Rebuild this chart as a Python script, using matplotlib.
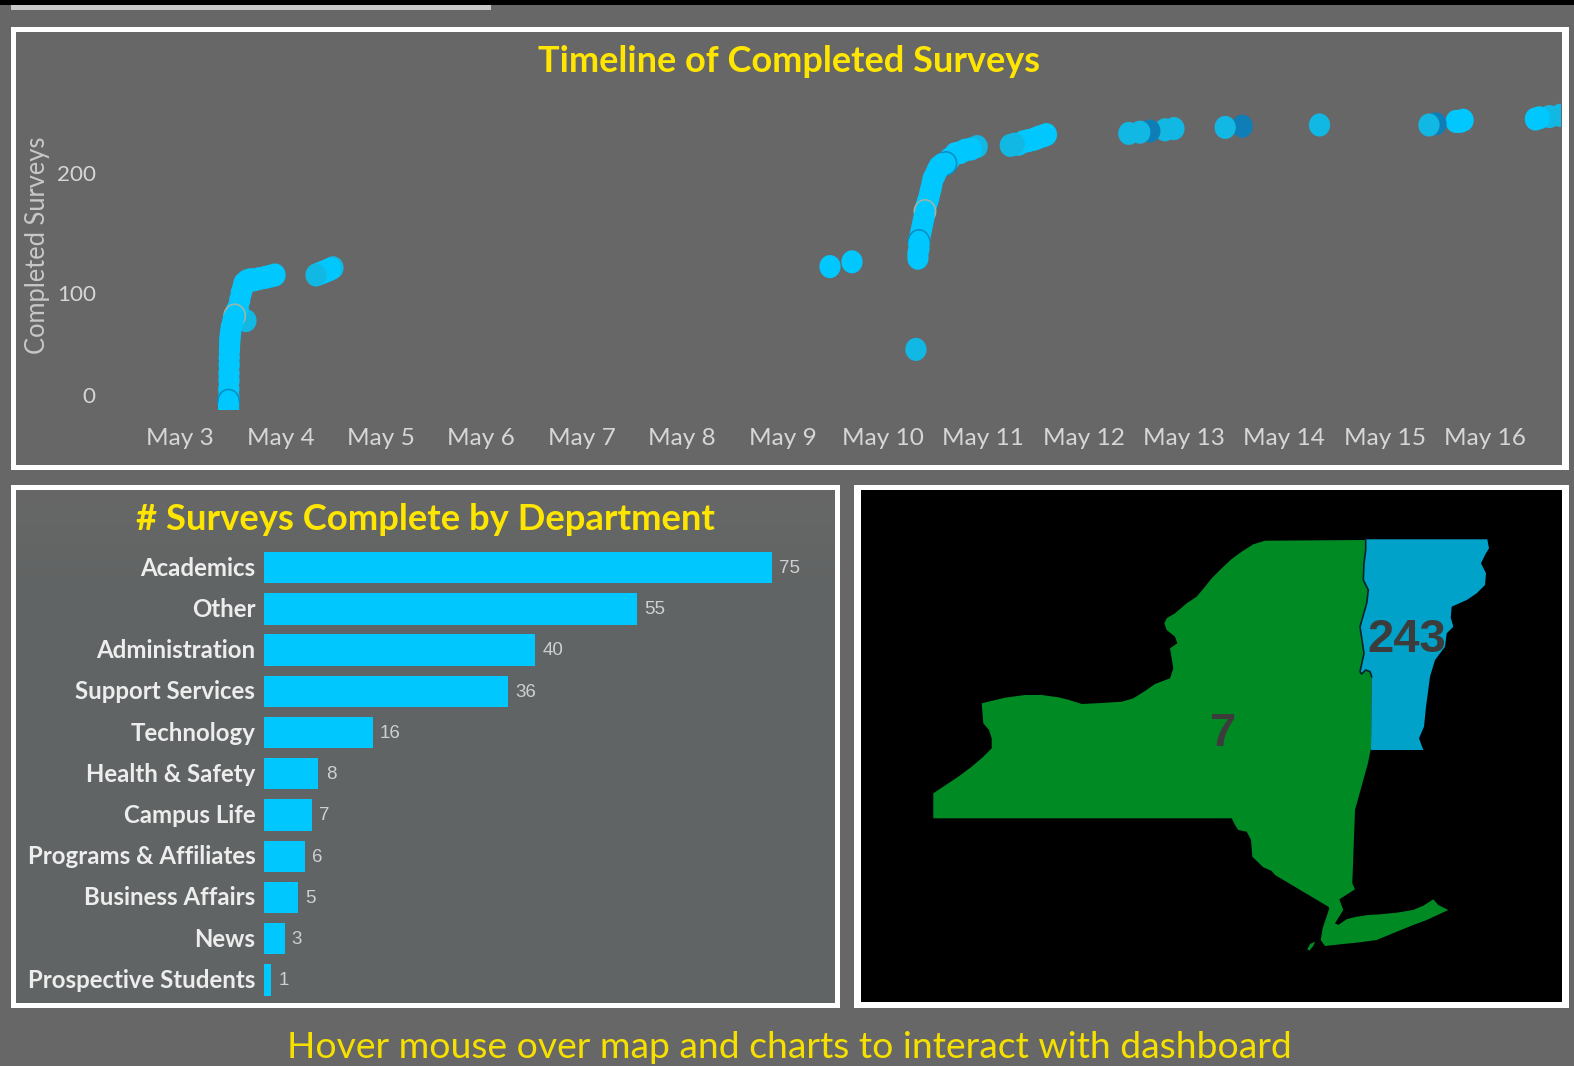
import matplotlib
matplotlib.use('Agg')
import matplotlib.pyplot as plt
from matplotlib.patches import Rectangle
from matplotlib.path import Path
from matplotlib.transforms import Affine2D, ScaledTranslation
from matplotlib.colors import to_rgb
import numpy as np

W, H = 1574, 1066

# timeline: days after May 3, running count of completed surveys, shade of each dot
survey_day = [
    0.484, 0.484, 0.484, 0.486, 0.486, 0.488, 0.488, 0.490, 0.490, 0.492, 0.494, 0.496, 0.498, 0.500, 0.504,
    0.510, 0.520, 0.530, 0.545, 0.560, 0.580, 0.595, 0.610, 0.625, 0.637, 0.657, 0.665, 0.700, 0.740, 0.790, 0.850, 0.900, 0.946,
    1.355, 1.385, 1.414, 1.445, 1.474, 1.500, 1.524,
    6.474, 6.693,
    7.330,
    7.350, 7.350, 7.360, 7.360, 7.360, 7.370, 7.380, 7.390, 7.400, 7.410, 7.420, 7.430, 7.440, 7.450, 7.460, 7.470, 7.480, 7.490, 7.500,
    7.520, 7.540, 7.560, 7.590, 7.630, 7.670, 7.720, 7.770, 7.820, 7.880, 7.940,
    8.270, 8.310, 8.350, 8.400, 8.450, 8.500, 8.530, 8.560, 8.600, 8.630,
    9.450, 9.560, 9.660, 9.810, 9.900,
    10.410, 10.580,
    11.350,
    12.440, 12.510, 12.710, 12.750, 12.780,
    13.500, 13.540, 13.640, 13.745,
]
survey_count = [
    3, 6, 10, 14, 20, 27, 33, 40, 46, 52, 57, 60, 62, 65, 67,
    71, 74, 78, 81, 85, 88, 94, 100, 104, 108, 77, 110, 111, 111, 112, 113, 114, 115,
    115, 116, 117, 118, 119, 120, 121,
    122, 126,
    53,
    129, 133, 137, 141, 143, 147, 151, 155, 159, 163, 168, 172, 175, 177, 180, 184, 187, 191, 195,
    198, 202, 205, 207, 208, 212, 216, 217, 219, 220, 222,
    223, 224, 224, 226, 227, 228, 229, 230, 231, 232,
    233, 234, 235, 236, 237,
    238, 239,
    240,
    240, 241, 243, 243, 244,
    245, 246, 247, 248,
]
survey_shade = [
    'b', 'b', 'r', 'b', 'b', 'b', 'b', 'b', 'b', 'b', 'b', 'b', 'b', 'b', 'b',
    'b', 'b', 'b', 'g', 'b', 'b', 'b', 'b', 'b', 'b', 'm', 'b', 'b', 'b', 'b', 'b', 'b', 'b',
    'm', 'b', 'b', 'b', 'b', 'b', 'm',
    'b', 'b',
    'm',
    'b', 'b', 'b', 'b', 'r', 'b', 'b', 'b', 'b', 'b', 'g', 'b', 'b', 'b', 'b', 'b', 'b', 'b', 'b',
    'b', 'b', 'b', 'b', 'r', 'b', 'b', 'b', 'b', 'b', 'm',
    'm', 'm', 'b', 'b', 'b', 'b', 'b', 'b', 'b', 'b',
    'm', 'm', 'd', 'm', 'm',
    'm', 'd',
    'm',
    'm', 'd', 'b', 'b', 'b',
    'b', 'b', 'm', 'm',
]
month_days = list(range(3, 17))

# department bars
departments = ['Academics', 'Other', 'Administration', 'Support Services', 'Technology',
               'Health & Safety', 'Campus Life', 'Programs & Affiliates', 'Business Affairs',
               'News', 'Prospective Students']
dept_surveys = [75, 55, 40, 36, 16, 8, 7, 6, 5, 3, 1]

# state outlines and totals
ny_total = 7
vt_total = 243
ny_x = [1365, 1365.7, 1364, 1363.3, 1368.3, 1366.7, 1360, 1364, 1360, 1365.7, 1370, 1371.7, 1371, 1368, 1355,
        1352.3, 1355, 1339.3, 1343.3, 1335, 1338.3, 1347, 1356.7, 1368.3, 1380, 1396.7, 1413, 1423.3, 1433.3,
        1438.3, 1448.3, 1426.7, 1413.3, 1396.7, 1376.7, 1360, 1343.3, 1325, 1320.7, 1322.7, 1329.3, 1328.3,
        1275, 1271.7, 1263.3, 1252.3, 1251, 1246.7, 1238.3, 1235, 1231.7, 933.3, 933.3, 958.3, 971.7, 983,
        991.7, 991.7, 989, 983.3, 981.7, 1005, 1025, 1041.7, 1058.3, 1068.3, 1081.7, 1101.7, 1121.7, 1133.3,
        1145, 1155, 1170, 1173.3, 1170, 1177.3, 1175, 1166.7, 1164.3, 1166.7, 1175, 1186.7, 1196.7, 1205,
        1211.7, 1221.7, 1231.7, 1241.7, 1253.3, 1265]
ny_y = [540, 550, 563, 580, 590, 603, 626.7, 653, 671.7, 670, 671.7, 676.7, 748, 763, 810,
        883.3, 889.3, 899.3, 910, 923.3, 925, 919, 916.7, 915, 914.3, 912.7, 910, 905.7, 899.3,
        905, 910, 920, 925, 931.7, 940, 942.3, 944, 946, 940, 928.3, 908.3, 906.7,
        875, 871, 867.3, 856.7, 840, 831.7, 830, 825, 818.3, 818.3, 793.3, 776.7, 766.7, 757,
        748.3, 738.3, 730, 723.3, 703.3, 697.7, 695, 695, 697.3, 699.7, 704, 703, 701.7, 698.3,
        691, 684, 678.3, 668.3, 648.3, 643.3, 636.7, 630, 623.3, 618.3, 613.3, 603.3, 596.7, 586.7,
        578.3, 568.3, 559, 551.7, 544.3, 540.7]
sliver_x = [1307.3, 1310, 1315, 1313.3, 1309.3]
sliver_y = [949.3, 944, 941.7, 946, 950.7]
vt_x = [1365.7, 1487.3, 1489, 1485, 1481, 1486, 1485, 1476.7, 1466.7, 1451.7, 1450.7, 1453.3, 1446.7, 1445, 1435,
        1430, 1426, 1424, 1419, 1423.3, 1371, 1371.7, 1370, 1365.7, 1361.7, 1360, 1364, 1360, 1366.7, 1368.3,
        1363.3, 1364, 1365.7]
vt_y = [539.3, 539.3, 548.3, 555, 563.3, 573.3, 585, 593.3, 600, 606.7, 617.3, 626.7, 633.3, 646.7, 660,
        676.7, 706.7, 726.7, 738.3, 750, 750, 676.7, 671.7, 670, 674, 671.7, 653.3, 626.7, 603.3, 590,
        580, 563.3, 550]

YELLOW = '#FFE600'
BG = '#676767'
shade_colors = {'b': '#00C8FF', 'm': '#12B8E4', 'd': '#0F7DB6', 'r': '#00C8FF', 'g': '#00C8FF'}
edge_colors = {'b': 'none', 'm': 'none', 'd': 'none', 'r': '#0A8FC4', 'g': '#9DB5A8'}

plt.rcParams['font.family'] = ['Lato', 'DejaVu Sans']

fig = plt.figure(figsize=(W / 100, H / 100), dpi=100, facecolor=BG)


def axes_px(left, top, right, bottom):
    return fig.add_axes([left / W, 1 - bottom / H, (right - left) / W, (bottom - top) / H])


# page furniture in pixel coordinates
frame = fig.add_axes([0, 0, 1, 1])
frame.axis('off')


def box(ax, x0, y0, x1, y1, color):
    ax.add_patch(Rectangle((x0, y0), x1 - x0, y1 - y0, facecolor=color, edgecolor='none'))


box(frame, 0, 0, W, 5, 'black')
box(frame, 10.5, 5, 491, 10, '#C9C9C9')

box(frame, 10.5, 26.5, 1569, 470, 'white')
box(frame, 16, 32, 1562, 465, BG)

box(frame, 10.5, 485, 840, 1008, 'white')
# panel fades slightly darker below the title
shade = np.linspace(0, 1, 120)[:, None, None]
top_rgb, low_rgb = np.array(to_rgb(BG)), np.array(to_rgb('#606464'))
frame.imshow(top_rgb + shade * (low_rgb - top_rgb), extent=(16, 835, 610, 490), aspect='auto', zorder=1)
rect_low = Rectangle((16, 609), 819, 394, facecolor='#606464', edgecolor='none', zorder=1)
frame.add_patch(rect_low)

box(frame, 854, 485, 1569, 1008, 'white')
box(frame, 861, 490, 1562, 1002, 'black')
frame.set_xlim(0, W)
frame.set_ylim(H, 0)

frame.text(789.5, 72, 'Timeline of Completed Surveys', color=YELLOW, fontsize=26, fontweight='bold',
           ha='center', va='baseline', zorder=3)
frame.text(425, 530, '# Surveys Complete by Department', color=YELLOW, fontsize=26.2, fontweight='bold',
           ha='center', va='baseline', zorder=3)
frame.text(789.5, 1058, 'Hover mouse over map and charts to interact with dashboard', color='#F5E000',
           fontsize=26.8, ha='center', va='baseline', zorder=3)

# timeline scatter, 100.4 px per day and 1.2 px per survey
ax = axes_px(100, 85, 1561, 410)
ax.patch.set_alpha(0)
ax.set_xlim((100 - 180) / 100.4, (1561 - 180) / 100.4)
ax.set_ylim(3 / 1.2, (413 - 85) / 1.2)
order = np.arange(len(survey_day))[::-1]
dot = Path.unit_circle().transformed(Affine2D().scale(0.92, 1))
ax.scatter(np.array(survey_day)[order], np.array(survey_count)[order], s=276, marker=dot,
           c=[shade_colors[survey_shade[i]] for i in order],
           edgecolors=[edge_colors[survey_shade[i]] for i in order], linewidths=1.2)
ax.set_xticks([d - 3 for d in month_days])
ax.set_xticklabels(['May %d' % d for d in month_days])
ax.set_yticks([100, 200])
ax.tick_params(length=0, labelcolor='#D6D6D6')
ax.tick_params(axis='x', pad=13, labelsize=17.6)
ax.tick_params(axis='y', pad=3, labelsize=16.2)
for s in ax.spines.values():
    s.set_visible(False)
frame.text(95, 397, '0', color='#D6D6D6', fontsize=16.2, ha='right', va='center', zorder=3)
frame.text(38, 245, 'Completed Surveys', color='#C8C8C8', fontsize=18.4, rotation=90, ha='center', va='center', zorder=3)

# department bars
ax2 = axes_px(264.3, 546.9, 835, 1000.6)
ax2.patch.set_alpha(0)
rows = np.arange(len(departments))
ax2.barh(rows, dept_surveys, height=0.763, color='#00C8FF')
ax2.set_xlim(0, (835 - 264.3) / 6.77)
ax2.set_ylim(10.5, -0.5)
ax2.set_xticks([])
ax2.set_yticks(rows)
ax2.set_yticklabels(departments, color='#EDEDED', fontsize=17.3, fontweight='bold')
ax2.tick_params(length=0, pad=6.5)
lift = ScaledTranslation(0, 1.5 / 100, fig.dpi_scale_trans)
for label in ax2.get_yticklabels():
    label.set_transform(label.get_transform() + lift)
for s in ax2.spines.values():
    s.set_visible(False)
for r, v in zip(rows, dept_surveys):
    ax2.annotate(str(v), (v, r), xytext=(5.2, -0.6), textcoords='offset points', color='#CFCFCF',
                 fontsize=13.5, family='Liberation Sans', va='center', ha='left')

# state map
frame.fill(ny_x, ny_y, color='#008A23', lw=0, zorder=2)
frame.fill(sliver_x, sliver_y, color='#008A23', lw=0, zorder=2)
frame.fill(vt_x, vt_y, color='#00A2C9', lw=0, zorder=2)
frame.plot(vt_x[21:] + [1365.7], vt_y[21:] + [539.3], color='#06222a', lw=1.2, zorder=2)
frame.text(1406.5, 635, str(vt_total), color='#3C3C3C', fontsize=34, fontweight='bold',
           family='Liberation Sans', ha='center', va='center_baseline', zorder=3)
frame.text(1223, 728.7, str(ny_total), color='#3C3C3C', fontsize=34, fontweight='bold',
           family='Liberation Sans', ha='center', va='center_baseline', zorder=3)

fig.savefig('out.png', dpi=100, facecolor=fig.get_facecolor())
